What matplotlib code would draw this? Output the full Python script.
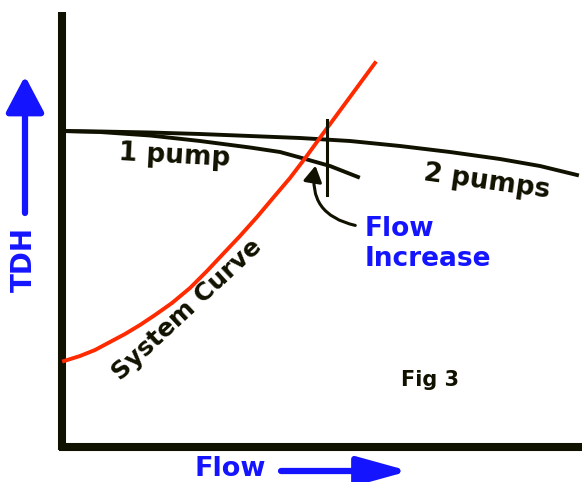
import matplotlib
matplotlib.use("Agg")
import matplotlib.pyplot as plt
from matplotlib.patches import FancyArrowPatch

# Curves (flow, head) in image-like coordinates (head axis grows downward)
two_pump_flow = [62, 100, 150, 200, 250, 300, 350, 400, 450, 500, 540, 577]
two_pump_head = [131, 131.5, 132.5, 134, 136, 138, 141, 146, 152, 159, 166, 175]
one_pump_flow = [62, 100, 150, 200, 250, 280, 300, 330, 358]
one_pump_head = [131, 132, 135.5, 141, 147.5, 152, 157.5, 166, 177]
system_flow = [64, 80, 95, 110, 125, 140, 155, 172, 190, 207, 223, 240, 257, 273, 290, 306, 322, 350, 375]
system_head = [361, 356, 350, 342, 334, 325, 315, 303, 288, 271, 254, 236, 217, 198, 178, 157, 135, 97, 63]

marker_flow = 327
marker_head = [120, 195]

BLUE = "#1414ff"
BLACK = "#111100"
RED = "#ff2a00"
FONT = "DejaVu Sans"

fig = plt.figure(figsize=(5.82, 4.82), dpi=100)
ax = fig.add_axes([0, 0, 1, 1])
ax.set_xlim(0, 582)
ax.set_ylim(482, 0)
ax.axis("off")

# Axes lines
ax.plot([62, 62], [12, 450], color=BLACK, lw=5.8, solid_capstyle="butt")
ax.plot([59, 582], [447, 447], color=BLACK, lw=5.8, solid_capstyle="butt")

# Pump curves
ax.plot(two_pump_flow, two_pump_head, color=BLACK, lw=2.8, solid_joinstyle="round")
ax.plot(one_pump_flow, one_pump_head, color=BLACK, lw=2.8, solid_joinstyle="round")
# System curve
ax.plot(system_flow, system_head, color=RED, lw=2.8, solid_joinstyle="round")
# marker line
ax.plot([marker_flow, marker_flow], marker_head, color=BLACK, lw=2.2)

# Flow increase arrow
arr = FancyArrowPatch((358, 226), (316, 163),
                      connectionstyle="arc3,rad=-0.5",
                      arrowstyle="-|>,head_length=0.6,head_width=0.35",
                      mutation_scale=16, color=BLACK, lw=2.2)
ax.add_patch(arr)

# Blue axis arrows
ax.annotate("", xy=(25, 76), xytext=(25, 213),
            arrowprops=dict(arrowstyle="-|>,head_length=1.1,head_width=0.58",
                            lw=4.5, color=BLUE, mutation_scale=20, shrinkA=0, shrinkB=0))
ax.annotate("", xy=(409, 471), xytext=(281, 471),
            arrowprops=dict(arrowstyle="-|>,head_length=1.55,head_width=0.43",
                            lw=4.5, color=BLUE, mutation_scale=20, shrinkA=0, shrinkB=0))

# Texts
ax.text(24, 260, "TDH", rotation=90, color=BLUE, fontsize=20, fontweight="bold",
        family=FONT, ha="center", va="center")
ax.text(230, 469, "Flow", color=BLUE, fontsize=19.5, fontweight="bold",
        family=FONT, ha="center", va="center")
ax.text(174, 156, "1 pump", rotation=-3, color=BLACK, fontsize=19, fontweight="bold",
        family=FONT, ha="center", va="center")
ax.text(487, 182, "2 pumps", rotation=-8, color=BLACK, fontsize=19, fontweight="bold",
        family=FONT, ha="center", va="center")
ax.text(365, 244, "Flow\nIncrease", color=BLUE, fontsize=19, fontweight="bold",
        family=FONT, ha="left", va="center", linespacing=1.15)
ax.text(187, 310, "System Curve", rotation=43, color=BLACK, fontsize=18,
        fontweight="bold", family=FONT, ha="center", va="center", rotation_mode="anchor")
ax.text(430, 380, "Fig 3", color=BLACK, fontsize=15, fontweight="bold",
        family=FONT, ha="center", va="center")

fig.savefig("out.png", dpi=100)
